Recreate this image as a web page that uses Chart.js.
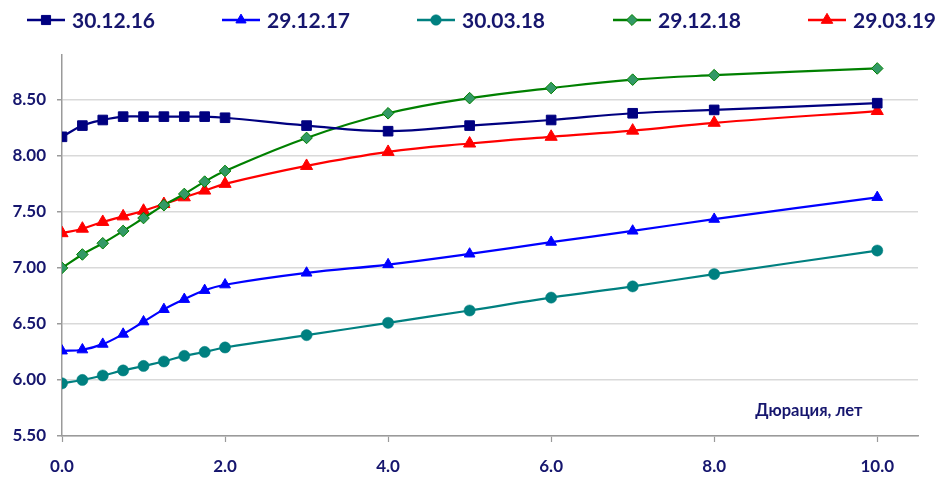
<!DOCTYPE html>
<html>
<head>
<meta charset="utf-8">
<script src="https://cdn.jsdelivr.net/npm/chart.js@4/dist/chart.umd.min.js"></script>
<style>
  html, body { margin: 0; padding: 0; background: #ffffff; }
  #wrap { width: 945px; height: 477px; position: relative; }
</style>
</head>
<body>
<div id="wrap"><canvas id="c" width="945" height="477"></canvas></div>
<script>
// Duration points (years) shared by all curves
const durations = [0, 0.25, 0.5, 0.75, 1, 1.25, 1.5, 1.75, 2, 3, 4, 5, 6, 7, 8, 10];

// Yield curves, % per annum
const curve301216 = [8.17, 8.27, 8.32, 8.35, 8.35, 8.35, 8.35, 8.35, 8.34, 8.27, 8.22, 8.27, 8.32, 8.38, 8.41, 8.47];
const curve291217 = [6.26, 6.27, 6.32, 6.41, 6.52, 6.63, 6.72, 6.80, 6.85, 6.955, 7.03, 7.125, 7.23, 7.33, 7.435, 7.63];
const curve300318 = [5.97, 6.00, 6.04, 6.085, 6.125, 6.165, 6.215, 6.25, 6.29, 6.40, 6.51, 6.62, 6.735, 6.835, 6.945, 7.155];
const curve291218 = [7.00, 7.12, 7.22, 7.33, 7.445, 7.56, 7.66, 7.77, 7.865, 8.16, 8.38, 8.515, 8.605, 8.68, 8.72, 8.78];
const curve290319 = [7.31, 7.35, 7.41, 7.46, 7.51, 7.57, 7.63, 7.69, 7.75, 7.91, 8.035, 8.11, 8.17, 8.225, 8.295, 8.40];

const seriesNames = ['30.12.16', '29.12.17', '30.03.18', '29.12.18', '29.03.19'];

// Axis ticks
const xTickValues = [0, 2, 4, 6, 8, 10];
const yTickValues = [5.5, 6.0, 6.5, 7.0, 7.5, 8.0, 8.5];
const xAxisTitle = 'Дюрация, лет';

const TEXT = '#16166e';
const FONT = 'Lato, "Open Sans", sans-serif';

const styles = [
  { line: '#000080', fill: '#000080', border: '#000080', point: 'rect', r: 6.8, bw: 1 },
  { line: '#0000ff', fill: '#0000ff', border: '#0000ff', point: 'triangle', r: 6.2, bw: 1 },
  { line: '#008080', fill: '#008080', border: '#008080', point: 'circle', r: 5.6, bw: 0.5 },
  { line: '#008000', fill: '#339966', border: '#008000', point: 'rectRot', r: 5.8, bw: 1 },
  { line: '#ff0000', fill: '#ff0000', border: '#ff0000', point: 'triangle', r: 7, bw: 1 }
];

const curves = [curve301216, curve291217, curve300318, curve291218, curve290319];

const datasets = curves.map((vals, i) => ({
  label: seriesNames[i],
  data: durations.map((d, k) => ({ x: d, y: vals[k] })),
  borderColor: styles[i].line,
  borderWidth: 2.2,
  backgroundColor: styles[i].fill,
  pointStyle: styles[i].point,
  pointRadius: styles[i].r,
  pointHoverRadius: styles[i].r,
  pointBackgroundColor: styles[i].fill,
  pointBorderColor: styles[i].border,
  pointBorderWidth: styles[i].bw,
  tension: 0.4,
  fill: false
}));

// Legend row: line segment with marker, then the series name
const legendRow = {
  id: 'legendRow',
  afterDraw(chart) {
    const ctx = chart.ctx;
    const starts = [27, 222, 417, 613, 808];
    const y = 20;
    ctx.save();
    chart.data.datasets.forEach((ds, i) => {
      const x0 = starts[i];
      ctx.strokeStyle = ds.borderColor;
      ctx.lineWidth = 2.5;
      ctx.beginPath();
      ctx.moveTo(x0, y);
      ctx.lineTo(x0 + 38, y);
      ctx.stroke();
      ctx.fillStyle = ds.pointBackgroundColor;
      ctx.strokeStyle = ds.pointBorderColor;
      ctx.lineWidth = ds.pointBorderWidth;
      Chart.helpers.drawPoint(ctx, {
        pointStyle: ds.pointStyle,
        radius: ds.pointRadius * 0.95,
        rotation: 0,
        borderWidth: ds.pointBorderWidth
      }, x0 + 19, y);
      ctx.fillStyle = TEXT;
      ctx.font = 'bold 21px ' + FONT;
      ctx.textAlign = 'left';
      ctx.textBaseline = 'middle';
      ctx.fillText(ds.label, x0 + 45, y + 1);
    });
    ctx.restore();
  }
};

// Axis caption placed inside the plot, near the lower right corner
const axisCaption = {
  id: 'axisCaption',
  afterDraw(chart) {
    const ctx = chart.ctx;
    const xs = chart.scales.x, ys = chart.scales.y;
    ctx.save();
    ctx.fillStyle = TEXT;
    ctx.font = 'bold 16.5px ' + FONT;
    ctx.textAlign = 'right';
    ctx.textBaseline = 'middle';
    ctx.fillText(xAxisTitle, xs.getPixelForValue(9.82), ys.getPixelForValue(5.73));
    ctx.restore();
  }
};

new Chart(document.getElementById('c'), {
  type: 'line',
  data: { datasets },
  plugins: [legendRow, axisCaption],
  options: {
    responsive: false,
    animation: false,
    events: [],
    layout: { padding: { top: 55, right: 27, left: 0, bottom: 0 } },
    plugins: { legend: { display: false }, tooltip: { enabled: false } },
    scales: {
      x: {
        type: 'linear',
        min: 0,
        max: 10.5,
        afterFit(scale) { scale.height = 41; },
        afterBuildTicks(scale) { scale.ticks = xTickValues.map(v => ({ value: v })); },
        ticks: {
          autoSkip: false,
          maxRotation: 0,
          padding: 14,
          color: TEXT,
          font: { family: FONT, size: 17, weight: 'bold' },
          callback: v => Number(v).toFixed(1)
        },
        grid: { drawOnChartArea: false, drawTicks: true, tickLength: 6, tickColor: '#9a9a9a', tickWidth: 1.2 },
        border: { color: '#9a9a9a', width: 1.5 }
      },
      y: {
        type: 'linear',
        min: 5.5,
        max: 8.9,
        afterFit(scale) { scale.width = 62; },
        afterBuildTicks(scale) { scale.ticks = yTickValues.map(v => ({ value: v })); },
        ticks: {
          autoSkip: false,
          padding: 11,
          color: TEXT,
          font: { family: FONT, size: 17, weight: 'bold' },
          callback: v => Number(v).toFixed(2)
        },
        grid: { color: '#d9d9d9', lineWidth: 1.5, tickLength: 5, tickColor: '#9a9a9a' },
        border: { color: '#9a9a9a', width: 1.5 }
      }
    }
  }
});
</script>
</body>
</html>
